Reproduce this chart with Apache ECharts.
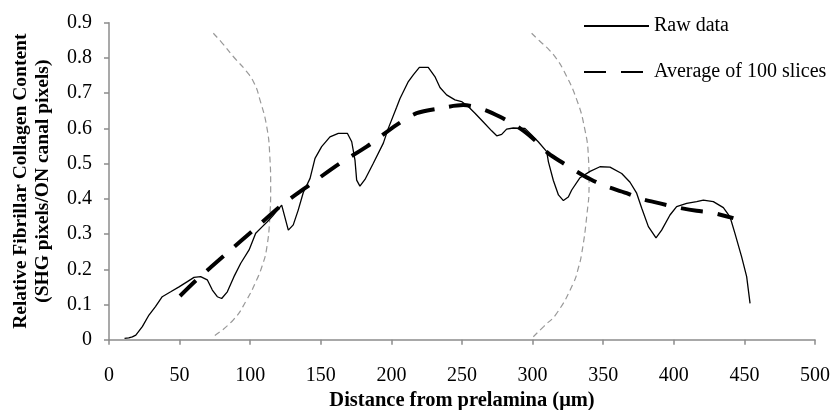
<!DOCTYPE html>
<html>
<head>
<meta charset="utf-8">
<script src="https://cdn.jsdelivr.net/npm/echarts@6/dist/echarts.min.js"></script>
<style>html,body{margin:0;padding:0;background:#fff;}#c{width:838px;height:410px;}</style>
</head>
<body>
<div id="c"></div>
<script>
const rawX = [11,14,16.5,19,23.6,28.3,32.9,37.7,43.7,49.6,55.5,60.2,64.9,69.6,73.2,76.7,79.8,83.8,88.5,93.3,99.2,103.9,108.6,112.1,116,122.3,127,130.5,134,137.6,142.4,145.9,150.6,156.5,162.4,168.8,171.9,174.2,175.4,177.7,181.3,187.2,194.3,197.8,203.7,206.1,212,215.5,219.8,226.1,230.8,234.4,239.1,245,249.7,254.4,259.2,265.1,271,274.6,278.1,281.6,286.3,294.6,299.3,304,310,311.2,314.7,318.3,321.8,325.3,327.7,333.6,340.7,347.7,354.8,363.1,369,373.7,377.3,382,387.4,391.4,397.3,402,409.1,416.2,420.9,428,435.1,439.8,443.3,448,451.6,454];
const rawY = [0.004,0.005,0.008,0.013,0.037,0.070,0.094,0.122,0.136,0.150,0.165,0.177,0.179,0.170,0.141,0.122,0.117,0.136,0.179,0.217,0.255,0.302,0.321,0.335,0.352,0.382,0.311,0.326,0.368,0.418,0.458,0.515,0.548,0.576,0.586,0.586,0.562,0.510,0.453,0.436,0.455,0.501,0.558,0.600,0.660,0.685,0.733,0.752,0.773,0.773,0.747,0.716,0.695,0.681,0.676,0.662,0.643,0.618,0.593,0.579,0.583,0.598,0.601,0.600,0.581,0.562,0.534,0.505,0.452,0.411,0.395,0.405,0.425,0.460,0.478,0.491,0.490,0.472,0.447,0.416,0.373,0.321,0.289,0.311,0.354,0.378,0.387,0.392,0.396,0.392,0.375,0.349,0.302,0.236,0.179,0.103];

const avgX = [50.3,62.1,83.3,102.2,121.1,143.6,163.6,182.5,203.7,217.9,234.4,250.9,265.1,276.9,291.1,300.6,311.2,321.8,335.9,344.2,350.1,366.6,376,390.2,402,416.2,426.8,442.2];
const avgY = [0.124,0.170,0.245,0.311,0.378,0.444,0.501,0.548,0.610,0.643,0.657,0.666,0.654,0.633,0.600,0.570,0.529,0.501,0.466,0.449,0.438,0.416,0.401,0.387,0.376,0.366,0.361,0.345];

const arcLeftX = [73.9,80,88,97.5,103,106.9,111.7,113.9,114.5,113.9,111.5,108.5,104.6,97.5,88,74.4];
const arcLeftY = [0.870,0.843,0.804,0.761,0.727,0.681,0.605,0.520,0.434,0.349,0.255,0.210,0.170,0.113,0.056,0.0105];
const arcRightX = [299.3,305,311.7,316.5,321.8,331.3,337.1,339.5,340,338.3,334.8,332.5,328.8,317.1,308,300.5];
const arcRightY = [0.870,0.848,0.823,0.800,0.766,0.681,0.595,0.520,0.444,0.349,0.245,0.205,0.160,0.075,0.038,0.0085];

const seriesNames = ['Raw data', 'Average of 100 slices'];
const xTitle = 'Distance from prelamina (μm)';
const yTitle = 'Relative Fibrillar Collagen Content\n(SHG pixels/ON canal pixels)';

const zip = (a, b) => a.map((v, i) => [v, b[i]]);
const font = 'Liberation Serif';

const chart = echarts.init(document.getElementById('c'), null, {renderer: 'canvas'});
chart.setOption({
  animation: false,
  backgroundColor: '#fff',
  textStyle: {fontFamily: font},
  grid: {left: 109, right: 23, top: 22.7, bottom: 70.3, containLabel: false, outerBoundsMode: 'none'},
  legend: {
    data: seriesNames,
    orient: 'vertical',
    left: 583, top: 16, padding: 0,
    itemWidth: 65, itemHeight: 14, itemGap: 26,
    itemStyle: {color: 'rgba(0,0,0,0)', borderWidth: 0, opacity: 0},
    textStyle: {fontFamily: font, fontSize: 20, color: '#000', lineHeight: 20}
  },
  xAxis: {
    type: 'value', min: 0, max: 500, interval: 50,
    name: xTitle, nameLocation: 'middle', nameGap: 46,
    nameTextStyle: {fontFamily: font, fontSize: 20.5, fontWeight: 'bold', color: '#000'},
    axisLine: {lineStyle: {color: '#8c8c8c', width: 1.5}},
    axisTick: {inside: false, length: 5, lineStyle: {color: '#8c8c8c', width: 1.5}},
    axisLabel: {fontFamily: font, fontSize: 20, color: '#000', margin: 26},
    splitLine: {show: false}
  },
  yAxis: {
    type: 'value', min: 0, max: 0.9, interval: 0.1,
    name: yTitle, nameLocation: 'middle', nameGap: 55, nameRotate: 90,
    nameTextStyle: {fontFamily: font, fontSize: 19.5, fontWeight: 'bold', color: '#000', lineHeight: 22},
    axisLine: {show: true, lineStyle: {color: '#8c8c8c', width: 1.5}},
    axisTick: {show: true, inside: false, length: 5, lineStyle: {color: '#8c8c8c', width: 1.5}},
    axisLabel: {fontFamily: font, fontSize: 20, color: '#000', margin: 17},
    splitLine: {show: false}
  },
  series: [
    {
      name: seriesNames[0], type: 'line', data: zip(rawX, rawY),
      showSymbol: false, symbol: 'none',
      lineStyle: {color: '#000', width: 1.3}, itemStyle: {color: '#000'}, z: 3
    },
    {
      name: seriesNames[1], type: 'line', data: zip(avgX, avgY),
      showSymbol: false, symbol: 'none', smooth: 0.3,
      lineStyle: {color: '#000', width: 4, type: [22, 15], cap: 'butt'}, itemStyle: {color: '#000'}, z: 4
    },
    {
      name: 'arcL', type: 'line', data: zip(arcLeftX, arcLeftY),
      showSymbol: false, symbol: 'none', smooth: 0.5,
      lineStyle: {color: '#999', width: 1.2, type: [6, 4]}, z: 2, silent: true
    },
    {
      name: 'arcR', type: 'line', data: zip(arcRightX, arcRightY),
      showSymbol: false, symbol: 'none', smooth: 0.5,
      lineStyle: {color: '#999', width: 1.2, type: [6, 4]}, z: 2, silent: true
    }
  ]
});
</script>
</body>
</html>
